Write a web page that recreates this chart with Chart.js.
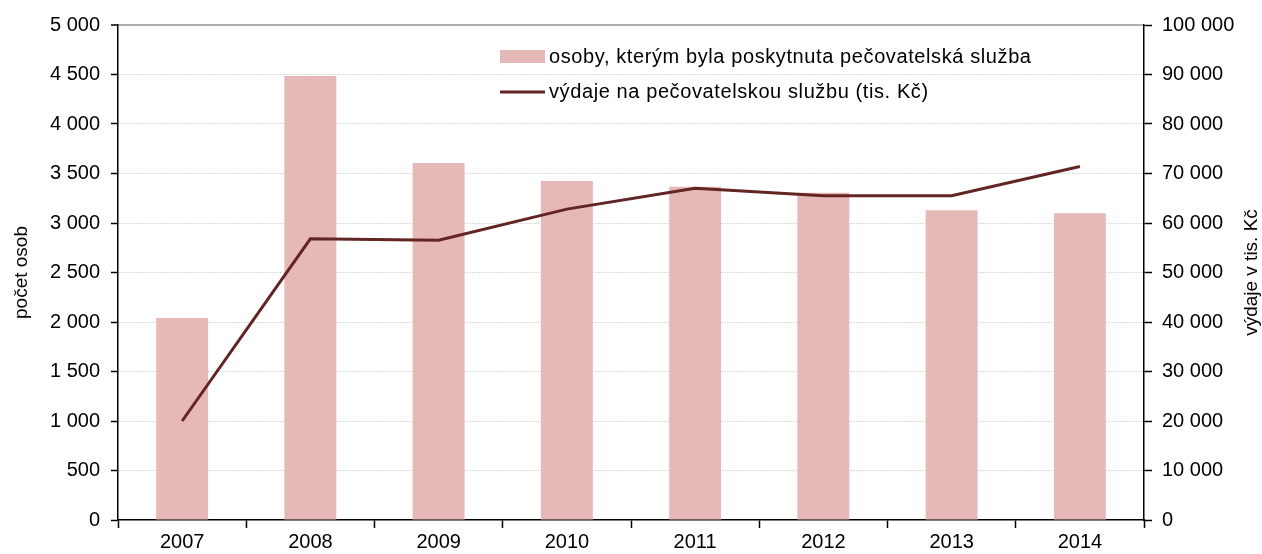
<!DOCTYPE html>
<html>
<head>
<meta charset="utf-8">
<script src="https://cdn.jsdelivr.net/npm/chart.js@4"></script>
<style>
  body { margin: 0; background: #fff; }
  #wrap { width: 1262px; height: 554px; position: relative; }
</style>
</head>
<body>
<div id="wrap"><canvas id="chart"></canvas></div>
<script>
// roky a hodnoty
const years = ['2007', '2008', '2009', '2010', '2011', '2012', '2013', '2014'];
const persons = [2040, 4485, 3605, 3425, 3365, 3305, 3130, 3098];
const spending = [20000, 56800, 56500, 62800, 67000, 65500, 65500, 71400];

const personsLabel = 'osoby, kterým byla poskytnuta pečovatelská služba';
const spendingLabel = 'výdaje na pečovatelskou službu (tis. Kč)';
const leftTitle = 'počet osob';
const rightTitle = 'výdaje v tis. Kč';

const FONT = "'Liberation Sans', Arial, sans-serif";
Chart.defaults.font.family = FONT;
Chart.defaults.font.size = 20;
Chart.defaults.color = '#000';

function fmt(v) {
  return String(v).replace(/\B(?=(\d{3})+(?!\d))/g, ' ');
}

// legenda uvnitř grafu + titulek pravé osy (čte se zdola nahoru)
const extras = {
  id: 'extras',
  afterDraw(chart) {
    const ctx = chart.ctx;
    const a = chart.chartArea;
    const x0 = a.left + 382;
    ctx.save();
    ctx.font = '20px ' + FONT;
    ctx.letterSpacing = '0.6px';
    ctx.fillStyle = '#000';
    ctx.textBaseline = 'middle';

    ctx.fillStyle = chart.data.datasets[0].backgroundColor;
    ctx.fillRect(x0, a.top + 25, 45, 13);
    ctx.fillStyle = '#000';
    ctx.fillText(chart.data.datasets[0].label, x0 + 49, a.top + 32);

    ctx.strokeStyle = chart.data.datasets[1].borderColor;
    ctx.lineWidth = 3;
    ctx.beginPath();
    ctx.moveTo(x0, a.top + 67);
    ctx.lineTo(x0 + 45, a.top + 67);
    ctx.stroke();
    ctx.fillText(chart.data.datasets[1].label, x0 + 49, a.top + 67);

    ctx.letterSpacing = '0px';
    ctx.font = '19px ' + FONT;
    ctx.translate(chart.width - 10, (a.top + a.bottom) / 2);
    ctx.rotate(-Math.PI / 2);
    ctx.textAlign = 'center';
    ctx.fillText(rightTitle, 0, 0);
    ctx.restore();
  }
};

new Chart(document.getElementById('chart'), {
  data: {
    labels: years,
    datasets: [
      {
        type: 'bar',
        label: personsLabel,
        data: persons,
        yAxisID: 'y',
        backgroundColor: '#e6b8b7',
        barPercentage: 0.405,
        categoryPercentage: 1,
        order: 2
      },
      {
        type: 'line',
        label: spendingLabel,
        data: spending,
        yAxisID: 'y2',
        borderColor: '#632523',
        borderWidth: 3,
        pointRadius: 0,
        tension: 0,
        order: 1
      }
    ]
  },
  options: {
    responsive: true,
    maintainAspectRatio: false,
    animation: false,
    layout: { padding: { top: 25, left: 0, right: 0, bottom: 0 } },
    plugins: {
      legend: { display: false },
      tooltip: { enabled: false }
    },
    scales: {
      x: {
        offset: true,
        grid: {
          offset: true,
          drawOnChartArea: false,
          tickLength: 8,
          tickColor: '#000',
          tickWidth: 1.5
        },
        border: { color: '#000', width: 1.5 },
        ticks: { padding: 2, maxRotation: 0 },
        afterFit(s) { s.height = 34; }
      },
      y: {
        position: 'left',
        min: 0,
        max: 5000,
        ticks: { stepSize: 500, padding: 11, callback: v => fmt(v) },
        grid: {
          color: ctx => ctx.tick && ctx.tick.value === 5000 ? '#b0b0b0' : (ctx.tick && ctx.tick.value === 0 ? 'rgba(0,0,0,0)' : '#b8b8b8'),
          lineWidth: ctx => ctx.tick && ctx.tick.value === 5000 ? 2 : 1,
          tickLength: 7,
          tickColor: '#000',
          tickWidth: 1.5,
          tickBorderDash: []
        },
        border: {
          color: '#000',
          width: 1.5,
          dash: ctx => ctx.tick && ctx.tick.value === 5000 ? [] : [1, 2]
        },
        title: { display: true, text: leftTitle, font: { size: 19 }, padding: { top: 10, bottom: 0 } },
        afterFit(s) { s.width = 118; }
      },
      y2: {
        position: 'right',
        min: 0,
        max: 100000,
        ticks: { stepSize: 10000, padding: 10, callback: v => fmt(v) },
        grid: {
          drawOnChartArea: false,
          tickLength: 8,
          tickColor: '#000',
          tickWidth: 1.5
        },
        border: { color: '#000', width: 1.5 },
        afterFit(s) { s.width = 118; }
      }
    }
  },
  plugins: [extras]
});
</script>
</body>
</html>
